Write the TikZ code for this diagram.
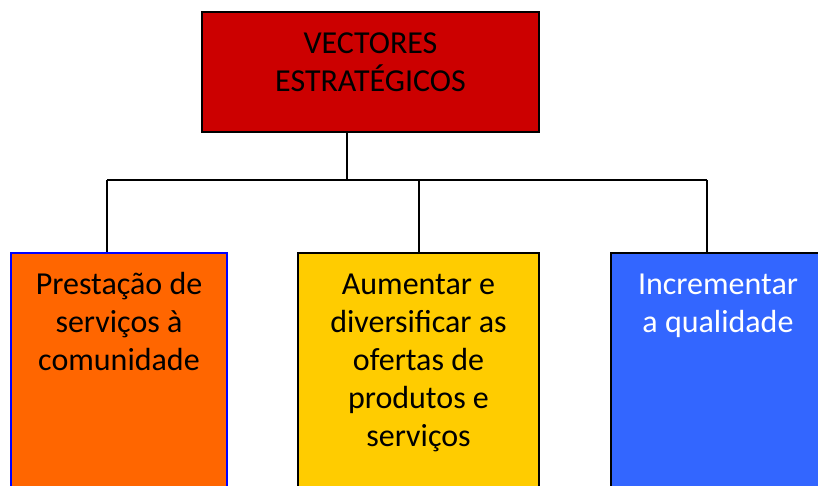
\documentclass[tikz,border=0pt]{standalone}
\usepackage{fontspec}
\setmainfont{Carlito}
\usepackage{tikz}
\definecolor{vecred}{HTML}{CC0000}
\definecolor{presorange}{HTML}{FF6600}
\definecolor{aumyellow}{HTML}{FFCC00}
\definecolor{incblue}{HTML}{3366FF}
\tikzset{
  vecbox/.style={draw=black, line width=1.5pt, minimum width=337pt, minimum height=120pt, inner sep=0pt},
  leafbox/.style={draw=black, line width=1.5pt, anchor=north, minimum height=260pt, inner sep=0pt},
  boxtext/.style={anchor=base, align=center, inner sep=0pt, font=\fontsize{32}{38}\selectfont},
  link/.style={line width=1.5pt}
}
\begin{document}
\begin{tikzpicture}[x=1pt,y=-1pt]
\useasboundingbox (0,0) rectangle (818,486);
\clip (0,0) rectangle (818,486);
%top
\node[vecbox, fill=vecred] (vec) at (370.5,72) {};
\node[boxtext] (vectxt) at (370.5,92) {VECTORES\\ESTRATÉGICOS};
%leaves
\node[leafbox, fill=presorange, draw=blue, minimum width=216pt] (pres) at (119,252) {};
\node[boxtext] (prestxt) at (119,370) {Prestação de\\serviços à\\comunidade};
\node[leafbox, fill=aumyellow, minimum width=241pt] (aum) at (418.5,252) {};
\node[boxtext] (aumtxt) at (418.5,446) {Aumentar e\\diversificar as\\ofertas de\\produtos e\\serviços};
\node[leafbox, fill=incblue, minimum width=214pt] (inc) at (718,252) {};
\node[boxtext, text=white] (inctxt) at (718,332) {Incrementar\\a qualidade};
%links
\coordinate (hub) at (347,180);
\coordinate (j1) at (107,180);
\coordinate (j2) at (419,180);
\coordinate (j3) at (707,180);
\draw[link] (vec.south -| hub) -- (hub);
\draw[link] (j1) -- (j3);
\draw[link] (j1) -- (j1 |- pres.north);
\draw[link] (j2) -- (j2 |- aum.north);
\draw[link] (j3) -- (j3 |- inc.north);
\end{tikzpicture}
\end{document}
